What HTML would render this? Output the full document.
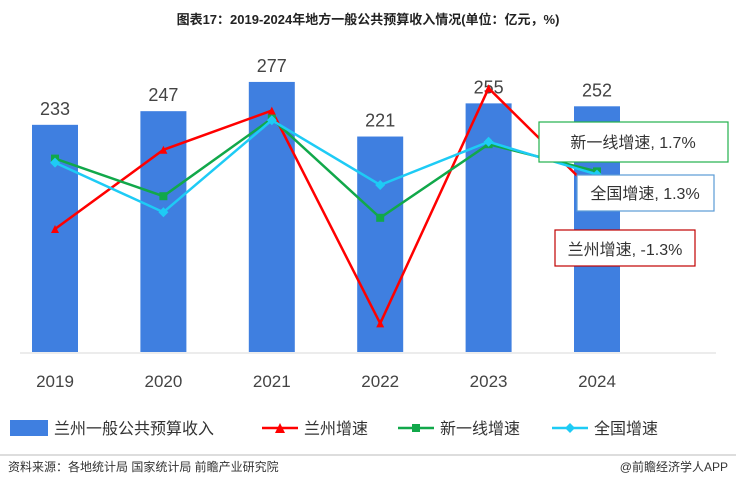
<!DOCTYPE html>
<html><head><meta charset="utf-8">
<style>
body{margin:0;background:#fff;font-family:"Liberation Sans","Noto Sans CJK SC",sans-serif;}
#wrap{position:relative;width:736px;height:488px;overflow:hidden;}
</style></head>
<body>
<div id="wrap">
<svg id="chart" width="736" height="488" xmlns="http://www.w3.org/2000/svg">
<text x="368" y="24" text-anchor="middle" font-size="13" font-weight="bold" fill="#222">图表17：2019-2024年地方一般公共预算收入情况(单位：亿元，%)</text>
<line x1="20" y1="353" x2="716" y2="353" stroke="#d9d9d9"/>
<g id="bars"></g><g id="lines"></g><g id="xlabels"></g>
<g>
<rect x="539" y="122" width="189" height="40" fill="#fff" stroke="#22b14c" stroke-width="1.2"/>
<text x="633" y="148" text-anchor="middle" font-size="16" fill="#333">新一线增速, 1.7%</text></g>
<g>
<rect x="577" y="175" width="137" height="36" fill="#fff" stroke="#5b9bd5" stroke-width="1.2"/>
<text x="645" y="199" text-anchor="middle" font-size="16" fill="#333">全国增速, 1.3%</text></g>
<g>
<rect x="555" y="230" width="140" height="36" fill="#fff" stroke="#c00000" stroke-width="1.2"/>
<text x="625" y="255" text-anchor="middle" font-size="16" fill="#333">兰州增速, -1.3%</text></g>
<g>
<rect x="10" y="420" width="38" height="16" fill="#3f7fe0"/>
<text x="54" y="434" font-size="16" fill="#333">兰州一般公共预算收入</text>
<line x1="262" y1="428" x2="298" y2="428" stroke="#f00" stroke-width="2.5"/><path d="M275,433 L280,423 L285,433Z" fill="#f00"/>
<text x="304" y="434" font-size="16" fill="#333">兰州增速</text>
<line x1="398" y1="428" x2="434" y2="428" stroke="#11a84a" stroke-width="2.5"/><rect x="412" y="424" width="8" height="8" fill="#11a84a"/>
<text x="440" y="434" font-size="16" fill="#333">新一线增速</text>
<line x1="552" y1="428" x2="588" y2="428" stroke="#1ecbf5" stroke-width="2.5"/><path d="M570,423 L575,428 L570,433 L565,428Z" fill="#1ecbf5"/>
<text x="594" y="434" font-size="16" fill="#333">全国增速</text>
</g>
<line x1="0" y1="455" x2="736" y2="455" stroke="#bbb"/>
<text x="8" y="471" font-size="12" fill="#333">资料来源：各地统计局 国家统计局 前瞻产业研究院</text>
<text x="728" y="471" text-anchor="end" font-size="12" fill="#333">@前瞻经济学人APP</text>
</svg>
</div>
<script>
const years=["2019","2020","2021","2022","2023","2024"];
const revenue=[233,247,277,221,255,252];
const lanzhou=[-5.5,4.4,9.3,-17.3,12.1,-1.3];
const newTier1=[3.3,-1.4,8.3,-4.1,5.1,1.7];
const national=[2.8,-3.4,8.1,0,5.4,1.3];
const NS="http://www.w3.org/2000/svg";
const xC=i=>55+i*108.4;
const yBar=v=>352-v*0.975;
const yRate=v=>185-v*8;
function mk(t,a,p){const e=document.createElementNS(NS,t);for(const k in a)e.setAttribute(k,a[k]);p.appendChild(e);return e;}
const gb=document.getElementById('bars'),gl=document.getElementById('lines'),gx=document.getElementById('xlabels');
revenue.forEach((v,i)=>{
 const r=mk('rect',{x:xC(i)-23,y:yBar(v),width:46,height:352-yBar(v),fill:'#3f7fe0'},gb);
 
 
 const t=mk('text',{x:xC(i),y:yBar(v)-10,'text-anchor':'middle','font-size':18,fill:'#444'},gb);t.textContent=v;
 
 
 const x=mk('text',{x:xC(i),y:387,'text-anchor':'middle','font-size':17,fill:'#444'},gx);x.textContent=years[i];
 
 
});
function series(data,color,name,marker){
 const pts=data.map((v,i)=>xC(i)+','+yRate(v)).join(' ');
 const p=mk('polyline',{points:pts,fill:'none',stroke:color,'stroke-width':2.5},gl);
 
 
 data.forEach((v,i)=>{const x=xC(i),y=yRate(v);let m;
  if(marker==='tri')m=mk('path',{d:`M${x-4},${y+4}L${x},${y-4}L${x+4},${y+4}Z`,fill:color},gl);
  else if(marker==='sq')m=mk('rect',{x:x-4,y:y-4,width:8,height:8,fill:color},gl);
  else m=mk('path',{d:`M${x},${y-5}L${x+5},${y}L${x},${y+5}L${x-5},${y}Z`,fill:color},gl);
  
  });
}
series(lanzhou,'#f00','lanzhou','tri');
series(newTier1,'#11a84a','newtier1','sq');
series(national,'#1ecbf5','national','dia');
</script>
</body></html>
